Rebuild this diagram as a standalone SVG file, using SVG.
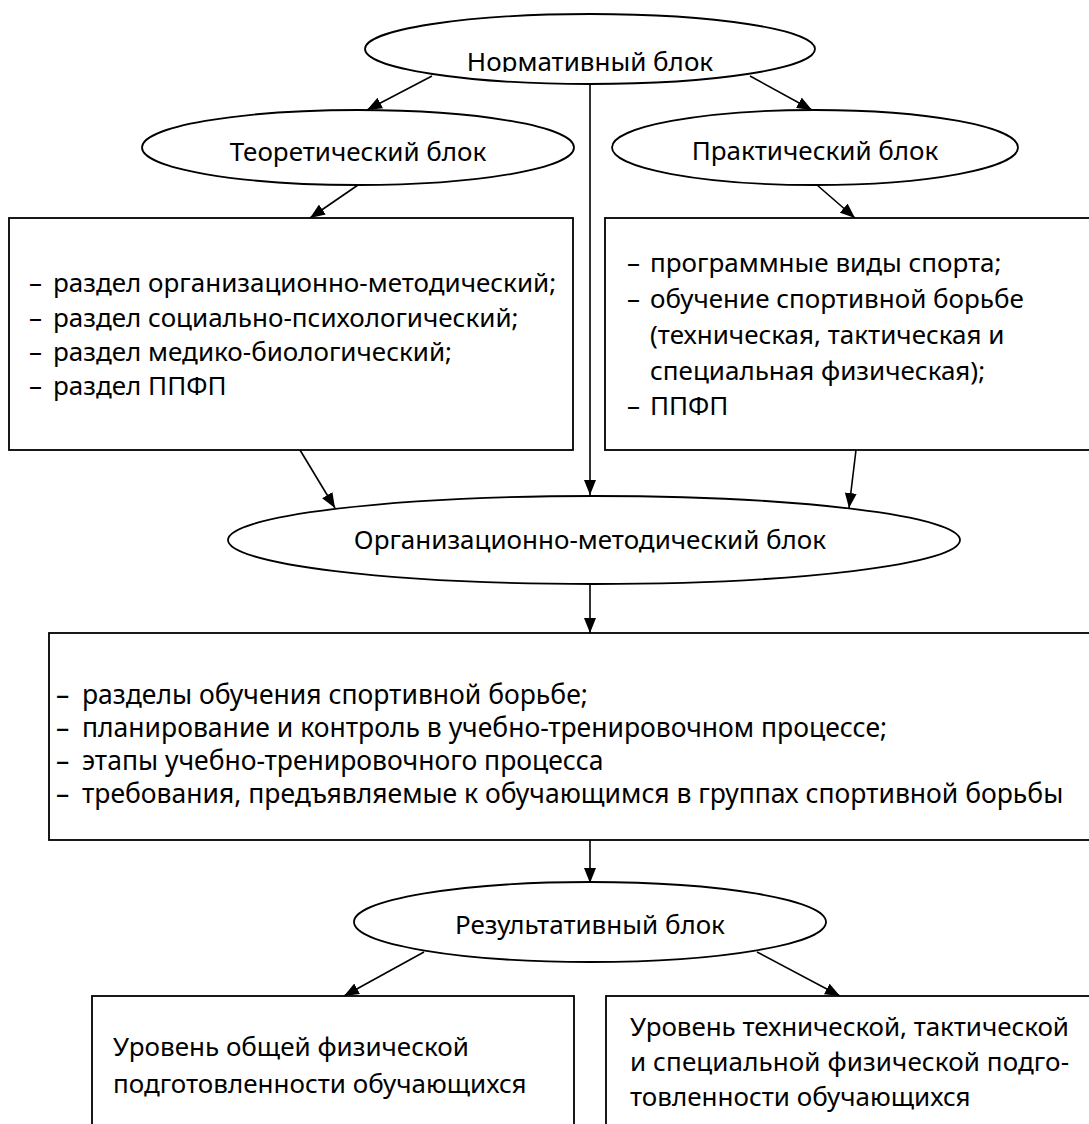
<svg xmlns="http://www.w3.org/2000/svg" width="1089" height="1124" viewBox="0 0 1089 1124">
<defs>
<marker id="ah" markerUnits="userSpaceOnUse" markerWidth="16" markerHeight="12" refX="15" refY="6" orient="auto">
<path d="M0,0 L15,6 L0,12 z" fill="#000"/>
</marker>
<clipPath id="normclip"><rect x="360" y="14" width="460" height="58"/></clipPath>
<style>
.sh{fill:#fff;stroke:#000;stroke-width:1.8}
.t{font-family:"Noto Sans","Open Sans",sans-serif;font-size:26px;fill:#000}
.c{text-anchor:middle}
.ln{stroke:#000;stroke-width:1.6;fill:none;marker-end:url(#ah)}
</style>
</defs>
<rect width="1089" height="1124" fill="#fff"/>
<g id="connectors">
<line class="ln" x1="432" y1="76" x2="367" y2="110"/>
<line class="ln" x1="750" y1="76" x2="812" y2="110"/>
<line class="ln" x1="590" y1="84" x2="590" y2="495"/>
<line class="ln" x1="358" y1="185" x2="310" y2="218"/>
<line class="ln" x1="817" y1="185" x2="855" y2="218"/>
<line class="ln" x1="300" y1="450" x2="335" y2="508"/>
<line class="ln" x1="856" y1="450" x2="849" y2="508"/>
<line class="ln" x1="590" y1="584" x2="590" y2="633"/>
<line class="ln" x1="590" y1="840" x2="590" y2="883"/>
<line class="ln" x1="424" y1="952" x2="344" y2="996"/>
<line class="ln" x1="757" y1="952" x2="840" y2="996"/>
</g>
<g id="normative">
<ellipse class="sh" cx="590" cy="49" rx="225" ry="35"/>
<text class="t c" x="590" y="71" clip-path="url(#normclip)">Нормативный блок</text>
</g>
<g id="theoretical">
<ellipse class="sh" cx="358" cy="147.5" rx="216" ry="37.5"/>
<text class="t c" x="358" y="161">Теоретический блок</text>
</g>
<g id="practical">
<ellipse class="sh" cx="815" cy="147.5" rx="203" ry="37.5"/>
<text class="t c" x="815" y="160">Практический блок</text>
</g>
<g id="theory-box">
<rect class="sh" x="9" y="218" width="564" height="232"/>
<text class="t"><tspan x="29" y="292">–</tspan><tspan x="53" y="292">раздел организационно-методический;</tspan><tspan x="29" y="327">–</tspan><tspan x="53" y="327">раздел социально-психологический;</tspan><tspan x="29" y="361">–</tspan><tspan x="53" y="361">раздел медико-биологический;</tspan><tspan x="29" y="395">–</tspan><tspan x="53" y="395">раздел ППФП</tspan></text>
</g>
<g id="practice-box">
<rect class="sh" x="605" y="218" width="500" height="232"/>
<text class="t"><tspan x="627" y="272">–</tspan><tspan x="650" y="272">программные виды спорта;</tspan><tspan x="627" y="308">–</tspan><tspan x="650" y="308">обучение спортивной борьбе</tspan><tspan x="650" y="344">(техническая, тактическая и</tspan><tspan x="650" y="380">специальная физическая);</tspan><tspan x="627" y="415">–</tspan><tspan x="650" y="415">ППФП</tspan></text>
</g>
<g id="org-method">
<ellipse class="sh" cx="594" cy="540" rx="366" ry="44"/>
<text class="t c" x="590" y="549">Организационно-методический блок</text>
</g>
<g id="org-box">
<rect class="sh" x="49" y="633" width="1060" height="207"/>
<text class="t" style="font-size:26.5px"><tspan x="56" y="704">–</tspan><tspan x="82" y="704">разделы обучения спортивной борьбе;</tspan><tspan x="56" y="737">–</tspan><tspan x="82" y="737">планирование и контроль в учебно-тренировочном процессе;</tspan><tspan x="56" y="770">–</tspan><tspan x="82" y="770">этапы учебно-тренировочного процесса</tspan><tspan x="56" y="803">–</tspan><tspan x="82" y="803">требования, предъявляемые к обучающимся в группах спортивной борьбы</tspan></text>
</g>
<g id="result">
<ellipse class="sh" cx="590" cy="922" rx="236" ry="40"/>
<text class="t c" x="590" y="934">Результативный блок</text>
</g>
<g id="general-level">
<rect class="sh" x="92" y="996" width="482" height="140"/>
<text class="t"><tspan x="113" y="1056">Уровень общей физической</tspan><tspan x="113" y="1093">подготовленности обучающихся</tspan></text>
</g>
<g id="special-level">
<rect class="sh" x="606" y="996" width="500" height="140"/>
<text class="t" x="630" y="1036" textLength="439" lengthAdjust="spacing">Уровень технической, тактической</text>
<text class="t" x="630" y="1071" textLength="439" lengthAdjust="spacing">и специальной физической подго-</text>
<text class="t" x="630" y="1106">товленности обучающихся</text>
</g>
</svg>
